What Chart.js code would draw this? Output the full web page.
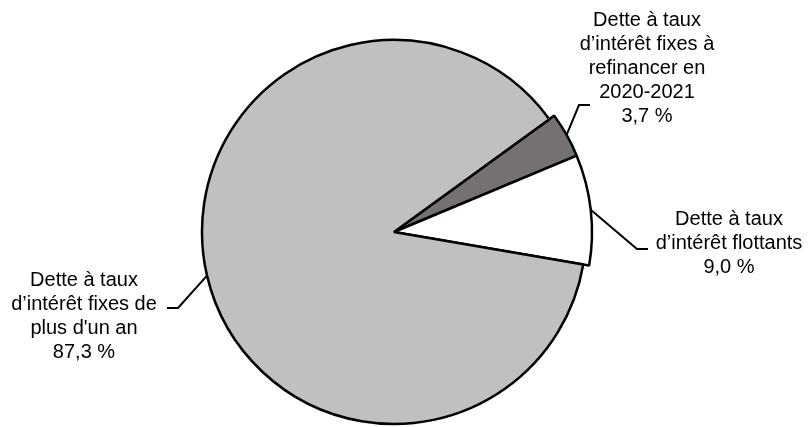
<!DOCTYPE html>
<html lang="fr">
<head>
<meta charset="UTF-8">
<title>Composition de la dette</title>
<script src="https://cdn.jsdelivr.net/npm/chart.js"></script>
<style>
  html, body { margin: 0; padding: 0; background: #fff; }
</style>
</head>
<body>
<canvas id="myChart" width="812" height="427"></canvas>
<script>
// données du graphique
var categories = [
    ["Dette à taux", "d’intérêt fixes à", "refinancer en", "2020-2021"],
    ["Dette à taux", "d’intérêt flottants"],
    ["Dette à taux", "d’intérêt fixes de", "plus d'un an"]
];
var values = [3.7, 9.0, 87.3];
var valueLabels = ["3,7 %", "9,0 %", "87,3 %"];

// styles
var colors = ['#767171', '#ffffff', '#c0c0c0'];
var extraRadius = [6, 6, 0];

// position des étiquettes : centre du texte, 1re ligne, coude et fin du trait
var labelPos = [
    { x: 647, y: 20, elbow: [579, 105], end: [590, 105] },
    { x: 729, y: 219, elbow: [637, 249], end: [648, 249] },
    { x: 84, y: 280, elbow: [178, 308], end: [167, 308] }
];

// agrandit un peu les petites parts (comme dans Excel)
var growSlices = {
    id: 'growSlices',
    afterUpdate: function (chart) {
        var meta = chart.getDatasetMeta(0);
        meta.data.forEach(function (el, i) {
            el.outerRadius = el.outerRadius + (extraRadius[i] || 0);
        });
    }
};

// étiquettes avec traits de rappel
var leaderLabels = {
    id: 'leaderLabels',
    afterDatasetsDraw: function (chart) {
        var ctx = chart.ctx;
        var meta = chart.getDatasetMeta(0);
        ctx.save();
        meta.data.forEach(function (el, i) {
            var p = labelPos[i];
            var mid = (el.startAngle + el.endAngle) / 2;
            var ax = el.x + Math.cos(mid) * el.outerRadius;
            var ay = el.y + Math.sin(mid) * el.outerRadius;

            ctx.strokeStyle = '#000';
            ctx.lineWidth = 2;
            ctx.beginPath();
            ctx.moveTo(ax, ay);
            ctx.lineTo(p.elbow[0], p.elbow[1]);
            ctx.lineTo(p.end[0], p.end[1]);
            ctx.stroke();

            var lines = categories[i].concat([valueLabels[i]]);
            ctx.fillStyle = '#000';
            ctx.font = '20px "Liberation Sans", Arial, sans-serif';
            ctx.textAlign = 'center';
            ctx.textBaseline = 'middle';
            lines.forEach(function (t, k) {
                ctx.fillText(t, p.x, p.y + k * 24);
            });
        });
        ctx.restore();
    }
};

new Chart(document.getElementById('myChart'), {
    type: 'pie',
    data: {
        labels: categories.map(function (c) { return c.join(' '); }),
        datasets: [{
            data: values,
            backgroundColor: colors,
            borderColor: '#000',
            borderWidth: 2.5
        }]
    },
    options: {
        responsive: false,
        animation: false,
        rotation: 54,
        radius: 192,
        layout: { padding: { left: 0, right: 24, top: 37, bottom: 0 } },
        plugins: {
            legend: { display: false },
            tooltip: { enabled: false }
        }
    },
    plugins: [growSlices, leaderLabels]
});
</script>
</body>
</html>
